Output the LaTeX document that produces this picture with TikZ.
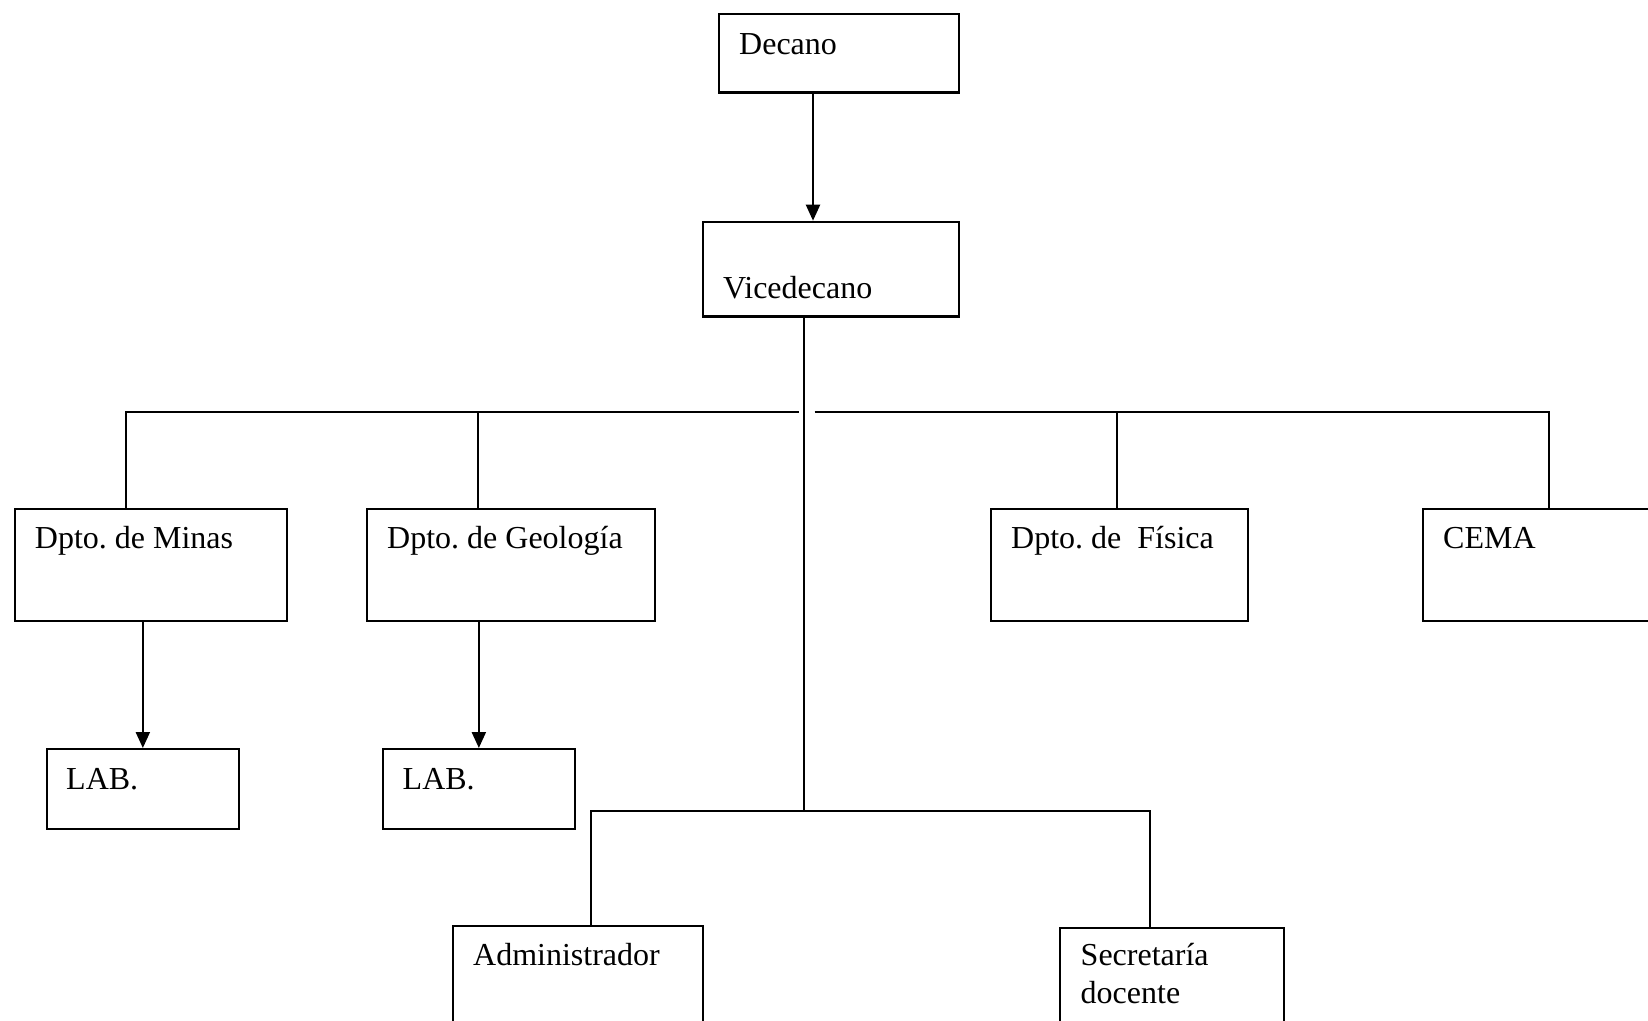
\documentclass[tikz,border=0pt]{standalone}
\usepackage{fontspec}
\setmainfont{Liberation Serif}
\usetikzlibrary{arrows.meta}
\frenchspacing
\begin{document}
\begin{tikzpicture}[x=1pt,y=-1pt,
  box/.style={draw, line width=2.2pt, inner sep=0pt, anchor=north west},
  txt/.style={anchor=base west, inner sep=0pt, font=\fontsize{32}{39}\selectfont},
  ln/.style={line width=2.2pt},
  arr/.style={line width=2.2pt, -{Triangle[length=16pt,width=14pt]}}]
\useasboundingbox (0,0) rectangle (1648,1020);
\clip (0,0) rectangle (1648,1020);
% boxes
\node[box, minimum width=239.5pt, minimum height=78.8pt] (decano) at (718,12.6) {};
\node[box, minimum width=255.5pt, minimum height=94.6pt] (vice) at (702,220.7) {};
\node[box, minimum width=272.3pt, minimum height=112.4pt] (minas) at (13.7,507.6) {};
\node[box, minimum width=288pt, minimum height=112.4pt] (geo) at (366,507.6) {};
\node[box, minimum width=256.5pt, minimum height=112.4pt] (fisica) at (990,507.6) {};
\node[box, minimum width=260pt, minimum height=112.4pt] (cema) at (1422,507.6) {};
\node[box, minimum width=191.5pt, minimum height=80pt] (lab1) at (46,748) {};
\node[box, minimum width=192.5pt, minimum height=80pt] (lab2) at (381.5,748) {};
\node[box, minimum width=250pt, minimum height=150pt] (admin) at (452,925) {};
\node[box, minimum width=224pt, minimum height=150pt] (secre) at (1059,927) {};
% texts
\node[txt] (decano-t) at (739,54.7) {Decano};
\node[txt] (vice-t) at (723,298.5) {Vicedecano};
\node[txt] (minas-t) at (34.7,548.6) {Dpto. de Minas};
\node[txt] (geo-t) at (387,548.6) {Dpto. de Geología};
\node[txt] (fisica-t) at (1011,548.6) {Dpto. de\ \ Física};
\node[txt] (cema-t) at (1443,548.6) {CEMA};
\node[txt] (lab1-t) at (66,789) {LAB.};
\node[txt] (lab2-t) at (402.5,789) {LAB.};
\node[txt] (admin-t) at (473,965) {Administrador};
\node[txt] (secre-t1) at (1080.5,965) {Secretaría};
\node[txt] (secre-t2) at (1080.5,1003.7) {docente};
% connectors
\coordinate (ax) at (813,0);
\draw[arr] (decano.south -| ax) -- (vice.north -| ax);
\coordinate (trunk) at (804,811);
\draw[ln] (vice.south -| trunk) -- (trunk);
\coordinate (hL) at (126,412);
\coordinate (g1) at (799,412);
\coordinate (g2) at (814.5,412);
\coordinate (hR) at (1549,412);
\coordinate (dg) at (478,412);
\coordinate (df) at (1117,412);
\draw[ln] (minas.north -| hL) -- (hL) -- (g1);
\draw[ln] (g2) -- (hR) -- (cema.north -| hR);
\draw[ln] (dg) -- (geo.north -| dg);
\draw[ln] (df) -- (fisica.north -| df);
\draw[arr] (minas.south -| lab1.north) -- (lab1.north);
\draw[arr] (geo.south -| lab2.north) -- (lab2.north);
\coordinate (bL) at (590.7,811);
\coordinate (bR) at (1150,811);
\draw[ln] (admin.north -| bL) -- (bL) -- (bR) -- (secre.north -| bR);
\end{tikzpicture}
\end{document}
